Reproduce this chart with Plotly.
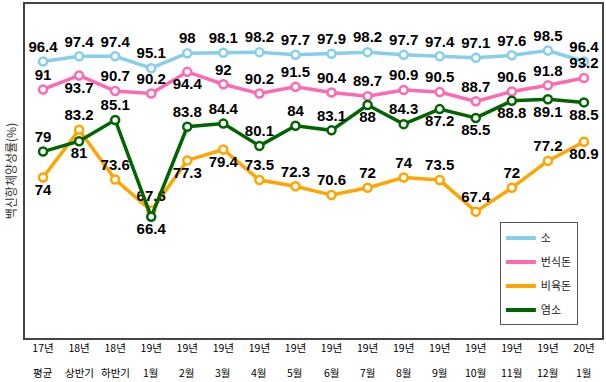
import plotly.graph_objects as go

years = ["17년", "18년", "18년", "19년", "19년", "19년", "19년", "19년", "19년", "19년",
         "19년", "19년", "19년", "19년", "19년", "20년"]
periods = ["평균", "상반기", "하반기", "1월", "2월", "3월", "4월", "5월", "6월", "7월",
           "8월", "9월", "10월", "11월", "12월", "1월"]
categories = [f"{y} {p}" for y, p in zip(years, periods)]
so = [96.4, 97.4, 97.4, 95.1, 98, 98.1, 98.2, 97.7, 97.9, 98.2, 97.7, 97.4, 97.1, 97.6, 98.5, 96.4]
beonsikdon = [91, 93.7, 90.7, 90.2, 94.4, 92, 90.2, 91.5, 90.4, 89.7, 90.9, 90.5, 88.7, 90.6, 91.8, 93.2]
biyukdon = [74, 83.2, 73.6, 67.6, 77.3, 79.4, 73.5, 72.3, 70.6, 72, 74, 73.5, 67.4, 72, 77.2, 80.9]
yeomso = [79, 81, 85.1, 66.4, 83.8, 84.4, 80.1, 84, 83.1, 88, 84.3, 87.2, 85.5, 88.8, 89.1, 88.5]

T, B = "top center", "bottom center"
pos_so = [T] * 16
pos_bs = [T, B, T, T, B] + [T] * 11
pos_by = [B, T, T, T, B, B, T, T, T, T, T, T, T, T, T, B]
pos_ys = [T, B, T, B, T, T, T, T, T, B, T, B, B, B, B, B]

series = [
    ("소", so, "#87CEEB", pos_so),
    ("번식돈", beonsikdon, "#FF69B4", pos_bs),
    ("비육돈", biyukdon, "#FFA500", pos_by),
    ("염소", yeomso, "#006400", pos_ys),
]

lab_font = dict(family="Liberation Sans Narrow, Arial Narrow, Liberation Sans", size=15,
                color="black", weight="bold")

fig = go.Figure()
for name, vals, col, pos in series:
    fig.add_trace(go.Scatter(
        x=categories, y=vals, mode="lines+markers+text", name=name,
        line=dict(color=col, width=3.5),
        marker=dict(symbol="circle", size=8, color="white", line=dict(color=col, width=2.5)),
        text=[str(v) for v in vals], textposition=pos,
        textfont=lab_font, showlegend=False, cliponaxis=False,
    ))
for name, vals, col, pos in series:
    fig.add_trace(go.Scatter(
        x=[None], y=[None], mode="lines", name=name, legendgroup=name,
        line=dict(color=col, width=4), showlegend=True,
    ))

# second row of the category labels
for cat, p in zip(categories, periods):
    fig.add_annotation(x=cat, y=0, xref="x", yref="paper", text=p, showarrow=False,
                       yanchor="top", yshift=-25, font=dict(size=10.5, color="black"))

fig.update_layout(
    width=606, height=382,
    margin=dict(l=25, r=4, t=4, b=44, autoexpand=False),
    paper_bgcolor="white", plot_bgcolor="white",
    font=dict(family="Noto Sans CJK KR, Liberation Sans", color="black"),
    legend=dict(x=0.823, y=0.346, xanchor="left", yanchor="top",
                bordercolor="#555", borderwidth=1, bgcolor="white",
                font=dict(size=11, color="#222"), itemwidth=30,
                tracegroupgap=5),
    xaxis=dict(type="category", range=[-0.5, 15.5], showgrid=False,
               showline=True, mirror=True, linecolor="#444", linewidth=1.5,
               ticks="", tickvals=categories, ticktext=years,
               tickfont=dict(size=10.5, color="black")),
    yaxis=dict(range=[43, 107.5], showgrid=False, showticklabels=False,
               showline=True, mirror=True, linecolor="#444", linewidth=1.5,
               ticks="", zeroline=False,
               title=dict(text="백신항체양성률(%)", standoff=4,
                          font=dict(size=12, color="#333"))),
)

fig.write_html("out.html", config={"displayModeBar": False},
               post_script="document.body.style.margin='0';document.body.style.overflow='hidden';")
